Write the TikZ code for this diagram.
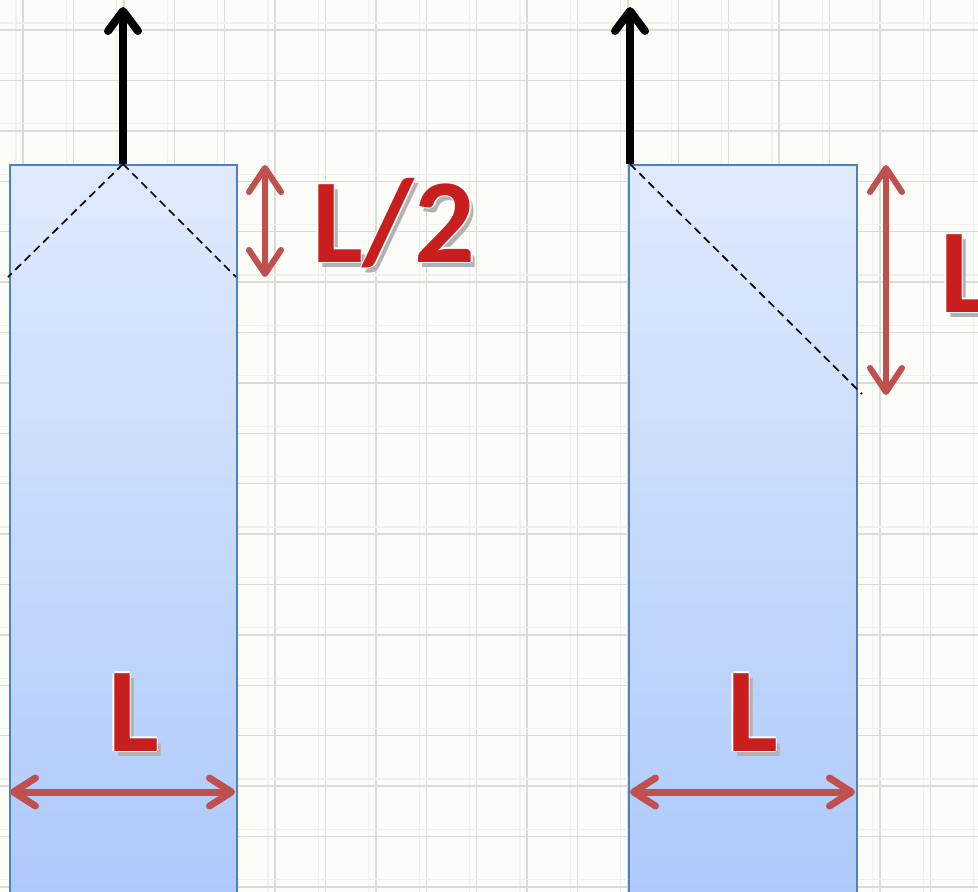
\documentclass[tikz,border=0pt]{standalone}
\usepackage{fontspec}
\setmainfont{Carlito}
\usetikzlibrary{arrows.meta}
\definecolor{bg}{HTML}{FCFCF8}
\definecolor{gridc}{HTML}{DCDCD7}
\definecolor{gridf}{HTML}{F1F1EC}
\definecolor{boxtop}{HTML}{E0EAFD}
\definecolor{boxbot}{HTML}{ADC9FB}
\definecolor{boxline}{HTML}{4F81BD}
\definecolor{dimred}{HTML}{C0504D}
\definecolor{txtred}{HTML}{C81E1E}
\newcommand\outl[1]{%
  \makebox[0pt][l]{\hspace{4pt}\raisebox{-5pt}{\textcolor{black!30}{#1}}}%
  \makebox[0pt][l]{\hspace{1.5pt}\textcolor{white}{#1}}%
  \makebox[0pt][l]{\hspace{-1.5pt}\textcolor{white}{#1}}%
  \makebox[0pt][l]{\raisebox{1.5pt}{\textcolor{white}{#1}}}%
  \makebox[0pt][l]{\raisebox{-1.5pt}{\textcolor{white}{#1}}}%
  \textcolor{txtred}{#1}}
\tikzset{
  box/.style={draw=boxline, line width=1.6pt, top color=boxtop, bottom color=boxbot,
    rectangle, inner sep=0pt, anchor=north west},
  force/.style={line width=8pt, black, -{Straight Barb[length=20pt,width=30pt,round]}},
  dimv/.style={line width=6pt, dimred, {Straight Barb[length=24pt,width=32pt,round]}-{Straight Barb[length=24pt,width=32pt,round]}},
  dimh/.style={line width=7pt, dimred, {Straight Barb[length=22pt,width=28pt,round]}-{Straight Barb[length=22pt,width=28pt,round]}},
  guide/.style={black, line width=1.7pt, dash pattern=on 8pt off 5pt},
  lbl/.style={inner sep=0pt, font=\fontsize{120}{120}\selectfont\bfseries},
}
\begin{document}
\begin{tikzpicture}[x=1pt,y=-1pt]
\useasboundingbox (0,0) rectangle (978,892);
\fill[bg] (0,0) rectangle (978,892);
\begin{scope}
\clip (0,0) rectangle (978,892);
% grid
\foreach \i in {0,...,19} {
  \draw[gridf, line width=1.2pt] ({16+50.4*\i},0) -- ({16+50.4*\i},892);
  \draw[gridc, line width=1.4pt] ({23+50.4*\i},0) -- ({23+50.4*\i},892);
}
\foreach \i in {0,...,18} {
  \draw[gridf, line width=1.2pt] (0,{23+50.4*\i}) -- (978,{23+50.4*\i});
  \draw[gridc, line width=1.4pt] (0,{30+50.4*\i}) -- (978,{30+50.4*\i});
}
% boxes
\node[box, minimum width=227pt, minimum height=740pt] (boxA) at (9,164) {};
\node[box, minimum width=228pt, minimum height=740pt] (boxB) at (628,164) {};
% left box: symmetric spread
\coordinate (A0) at (123,164);
\coordinate (Atip) at (123,7);
\coordinate (Al) at (8,277);
\coordinate (Ar) at (236,277);
\draw[guide] (A0) -- (Al);
\draw[guide] (A0) -- (Ar);
\draw[force] (A0) -- (Atip);
\coordinate (Dt) at (265,165);
\coordinate (Db) at (265,277);
\draw[dimv] (Dt) -- (Db);
\node[lbl, anchor=base west] (half) at (312,262) {\outl{L/2}};
\coordinate (Hl) at (10,792);
\coordinate (Hr) at (235,792);
\draw[dimh] (Hl) -- (Hr);
\node[lbl, anchor=base west] (wA) at (108,751) {\outl{L}};
% right box: one-sided spread
\coordinate (B0) at (630,164);
\coordinate (Btip) at (630,7);
\coordinate (Bd) at (862,394);
\draw[guide] (B0) -- (Bd);
\draw[force] (B0) -- (Btip);
\coordinate (Et) at (886,165);
\coordinate (Eb) at (886,395);
\draw[dimv] (Et) -- (Eb);
\node[lbl, anchor=base west] (full) at (940,312) {\outl{L}};
\coordinate (Gl) at (630,792);
\coordinate (Gr) at (855,792);
\draw[dimh] (Gl) -- (Gr);
\node[lbl, anchor=base west] (wB) at (727,751) {\outl{L}};
\end{scope}
\end{tikzpicture}
\end{document}
